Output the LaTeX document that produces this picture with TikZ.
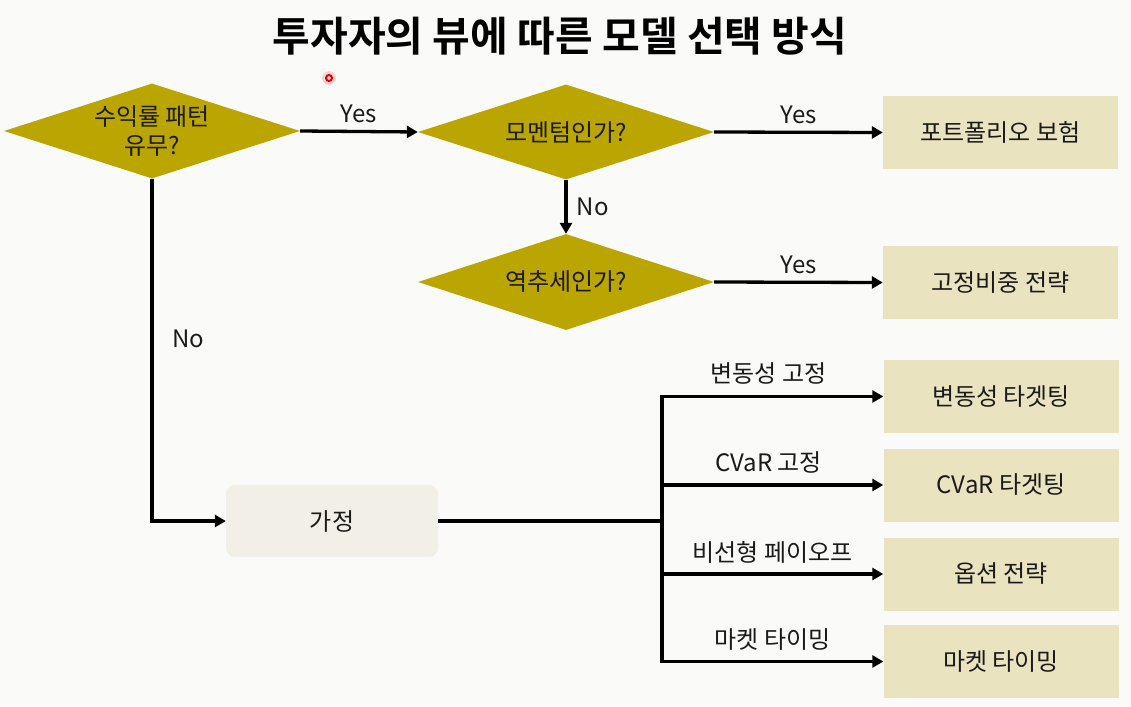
\documentclass[tikz,border=0pt]{standalone}
\usepackage{fontspec}
\setmainfont{Noto Sans CJK KR}
\newfontfamily\titlefont{Noto Sans CJK KR}[BoldFont={* Bold}]
\usetikzlibrary{shapes.geometric,arrows.meta}
\definecolor{bgc}{RGB}{250,250,248}
\definecolor{olivec}{RGB}{187,165,0}
\definecolor{beigec}{RGB}{233,227,192}
\definecolor{lightc}{RGB}{242,239,231}
\definecolor{inkc}{RGB}{26,26,26}
\tikzset{
  decision/.style={shape=diamond, aspect=3.1, fill=olivec, draw=none, inner sep=0pt,
    minimum width=296pt, minimum height=95pt, align=center,
    font=\fontsize{24}{29}\selectfont, text=inkc},
  outbox/.style={rectangle, fill=beigec, draw=none, inner sep=0pt,
    minimum width=235pt, minimum height=73pt, font=\fontsize{24}{28}\selectfont, text=inkc},
  assume/.style={rectangle, rounded corners=9pt, fill=lightc, draw=none, inner sep=0pt,
    minimum width=212pt, minimum height=72pt, font=\fontsize{24}{28}\selectfont, text=inkc},
  conn/.style={line width=3.3pt, draw=black, -{Triangle[length=11pt,width=12pt]}},
  plainconn/.style={line width=3.3pt, draw=black},
  lbl/.style={font=\fontsize{24}{28}\selectfont, text=inkc, inner sep=0pt}
}
\begin{document}
\begin{tikzpicture}[x=1pt,y=-1pt]
\fill[bgc] (0,0) rectangle (1131,706);
\useasboundingbox (0,0) rectangle (1131,706);

\node[font=\titlefont\bfseries\fontsize{41}{46}\selectfont, text={RGB:red,34;green,34;blue,34}] (title) at (560,36) {투자자의 뷰에 따른 모델 선택 방식};

% cursor mark
\fill[red, opacity=0.15] (329,78) circle (7pt);
\draw[red!90!black, line width=2pt] (329,78) circle (3pt);

\node[decision] (d1) at (152,131) {수익률 패턴\\유무?};
\node[decision] (d2) at (566,132) {모멘텀인가?};
\node[decision, minimum height=96pt] (d3) at (566,282) {역추세인가?};

\node[outbox] (b1) at (1000.5,132.5) {포트폴리오 보험};
\node[outbox] (b2) at (1000.5,282.5) {고정비중 전략};
\node[outbox] (b3) at (1001,396.5) {변동성 타겟팅};
\node[outbox] (b4) at (1001,485) {CVaR 타겟팅};
\node[outbox] (b5) at (1001,574) {옵션 전략};
\node[outbox] (b6) at (1001,661.5) {마켓 타이밍};

\node[assume] (ga) at (332,521) {가정};
\coordinate (split) at (662,521);

\draw[conn] (d1.east) -- node[lbl, above=7pt] (y1) {Yes} (d2.west);
\draw[conn] (d2.east) -- node[lbl, above=7pt] (y2) {Yes} (b1.west);
\draw[conn] (d2.south) -- node[lbl, right=9pt] (n2) {No} (d3.north);
\draw[conn] (d3.east) -- node[lbl, above=7pt] (y3) {Yes} (b2.west);
\draw[conn] (d1.south) |- (ga.west);
\node[lbl] (n1) at (188,339) {No};

\draw[plainconn] (ga.east) -- (split);
\draw[conn] (split) |- node[lbl, pos=0.75, above=11pt, xshift=-4pt] (l3) {변동성 고정} (b3.west);
\draw[conn] (split) |- node[lbl, pos=0.75, above=10pt, xshift=-4pt] (l4) {CVaR 고정} (b4.west);
\draw[conn] (split) |- node[lbl, pos=0.75, above=9pt] (l5) {비선형 페이오프} (b5.west);
\draw[conn] (split) |- node[lbl, pos=0.75, above=9pt] (l6) {마켓 타이밍} (b6.west);
\end{tikzpicture}
\end{document}
